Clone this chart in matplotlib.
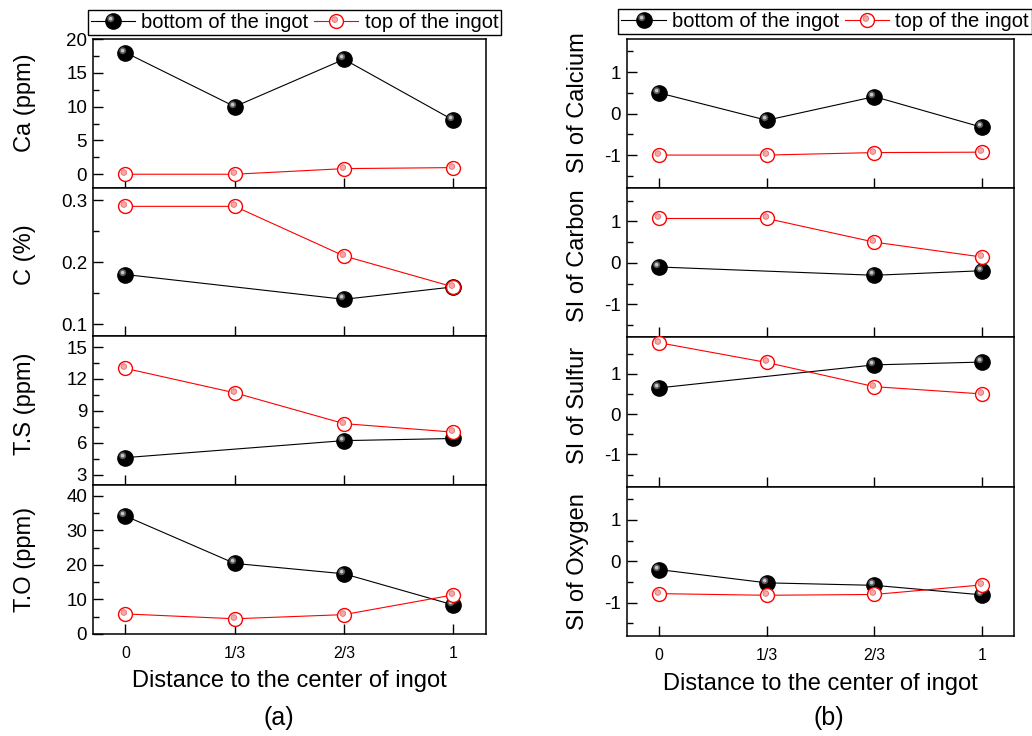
import numpy as np
import matplotlib
matplotlib.use('Agg')
import matplotlib.pyplot as plt
from matplotlib.markers import MarkerStyle
from matplotlib.transforms import Affine2D
from matplotlib.ticker import MultipleLocator

plt.rcParams['font.family'] = ['Liberation Sans', 'DejaVu Sans']
plt.rcParams['axes.unicode_minus'] = False

# distance to the center of the ingot
positions = [0, 1, 2, 3]
pos_labels = ['0', '1/3', '2/3', '1']
series_labels = ['bottom of the ingot', 'top of the ingot']

# (a) contents
ca_bottom = [18.0, 10.0, 17.0, 8.0]
ca_top = [0.0, 0.0, 0.83, 0.98]
c_bottom = [0.18, np.nan, 0.14, 0.16]
c_top = [0.29, 0.29, 0.21, 0.16]
ts_bottom = [4.6, np.nan, 6.2, 6.4]
ts_top = [13.0, 10.7, 7.8, 7.0]
to_bottom = [34.1, 20.4, 17.4, 8.4]
to_top = [5.8, 4.4, 5.6, 11.3]

# (b) segregation index
si_ca_bottom = [0.5, -0.16, 0.41, -0.33]
si_ca_top = [-1.0, -1.0, -0.94, -0.93]
si_c_bottom = [-0.1, np.nan, -0.3, -0.19]
si_c_top = [1.07, 1.07, 0.5, 0.14]
si_s_bottom = [0.65, np.nan, 1.22, 1.29]
si_s_top = [1.77, 1.28, 0.68, 0.5]
si_o_bottom = [-0.2, -0.52, -0.58, -0.81]
si_o_top = [-0.78, -0.82, -0.8, -0.57]


def shifted(dx, dy):
    return MarkerStyle('o', transform=Affine2D().translate(dx, dy))


def bottom_style(ax, x, y, **kw):
    a = ax.plot(x, y, '-', color='black', lw=0.8, marker='o', ms=11,
                mfc='black', mec='black', zorder=3, **kw)[0]
    b = ax.plot(x, y, ls='none', marker=shifted(-0.4, 0.4), ms=5.0,
                mfc='#5a5a5a', mec='none', zorder=3.1, **kw)[0]
    c = ax.plot(x, y, ls='none', marker=shifted(-0.8, 0.8), ms=2.6,
                mfc='#c8c8c8', mec='none', zorder=3.2, **kw)[0]
    return (a, b, c)


def top_style(ax, x, y, **kw):
    a = ax.plot(x, y, '-', color='red', lw=0.8, marker='o', ms=10,
                mfc='white', mec='red', mew=1.0, zorder=4, **kw)[0]
    b = ax.plot(x, y, ls='none', marker=shifted(-0.3, 0.35), ms=4,
                mfc='#f6a8a8', mec='#ec6a6a', mew=0.6, zorder=4.1, **kw)[0]
    return (a, b)


def draw_pair(ax, bottom, top):
    x = np.array(positions, float)
    yb = np.array(bottom, float)
    yt = np.array(top, float)
    ok = ~np.isnan(yb)
    hb = bottom_style(ax, x[ok], yb[ok], clip_on=False)
    ht = top_style(ax, x, yt, clip_on=False)
    return hb, ht


def make_column(left, right, bottom, top):
    h = (top - bottom) / 4
    return [fig.add_axes([left, top - (i + 1) * h, right - left, h]) for i in range(4)]


def style_axis(ax, ylim, major, last):
    ax.set_xlim(-0.3, 3.3)
    ax.set_ylim(*ylim)
    ax.set_xticks(positions)
    ax.set_xticklabels(pos_labels)
    ax.yaxis.set_major_locator(MultipleLocator(major))
    ax.yaxis.set_minor_locator(MultipleLocator(major / 2))
    ax.tick_params(which='major', direction='in', length=7, width=1.0,
                   top=False, right=False, labelsize=13.5, pad=4)
    ax.tick_params(which='minor', direction='in', length=4, width=1.0,
                   top=False, right=False, bottom=False)
    ax.tick_params(axis='x', labelsize=11.5, pad=9, labelbottom=last)
    for s in ax.spines.values():
        s.set_linewidth(1.1)


fig = plt.figure(figsize=(10.32, 7.36), dpi=100)

left_axes = make_column(0.0898, 0.471, 0.1386, 0.947)
right_axes = make_column(0.6073, 0.9829, 0.136, 0.947)

left_data = [(ca_bottom, ca_top), (c_bottom, c_top), (ts_bottom, ts_top), (to_bottom, to_top)]
left_names = ['Ca (ppm)', 'C (%)', 'T.S (ppm)', 'T.O (ppm)']
left_lims = [(-2, 20), (0.08, 0.32), (2, 16), (0, 43)]
left_major = [5, 0.1, 3, 10]

right_data = [(si_ca_bottom, si_ca_top), (si_c_bottom, si_c_top),
              (si_s_bottom, si_s_top), (si_o_bottom, si_o_top)]
right_names = ['SI of Calcium', 'SI of Carbon', 'SI of Sulfur', 'SI of Oxygen']
right_lims = [(-1.8, 1.8), (-1.8, 1.8), (-1.8, 1.9), (-1.8, 1.8)]

label_y = [0.575, 0.55, 0.545, 0.5]

handles = None
for i, ax in enumerate(left_axes):
    hb, ht = draw_pair(ax, *left_data[i])
    handles = [hb, ht]
    style_axis(ax, left_lims[i], left_major[i], i == 3)
    ax.set_ylabel(left_names[i], fontsize=17)
    ax.yaxis.set_label_coords(-0.143, label_y[i])

for i, ax in enumerate(right_axes):
    draw_pair(ax, *right_data[i])
    style_axis(ax, right_lims[i], 1, i == 3)
    ax.set_ylabel(right_names[i], fontsize=17)
    ax.yaxis.set_label_coords(-0.097, label_y[i])

for cx, ly in ((0.2852, 0.970), (0.7997, 0.971)):
    leg = fig.legend(handles, series_labels, loc='center', bbox_to_anchor=(cx, ly),
                     ncol=2, frameon=True, fancybox=False, edgecolor='black',
                     framealpha=1, fontsize=14.5, handlelength=2.2,
                     handletextpad=0.3, columnspacing=0.3, borderpad=0.15,
                     borderaxespad=0)
    leg.get_frame().set_linewidth(1.0)

fig.text(0.2804, 1 - 681 / 736, 'Distance to the center of ingot', fontsize=17,
         ha='center', va='center')
fig.text(0.7951, 1 - 684 / 736, 'Distance to the center of ingot', fontsize=17,
         ha='center', va='center')
fig.text(0.2703, 1 - 718 / 736, '(a)', fontsize=18, ha='center', va='center')
fig.text(0.8033, 1 - 718 / 736, '(b)', fontsize=18, ha='center', va='center')

fig.savefig('out.png', dpi=100)
